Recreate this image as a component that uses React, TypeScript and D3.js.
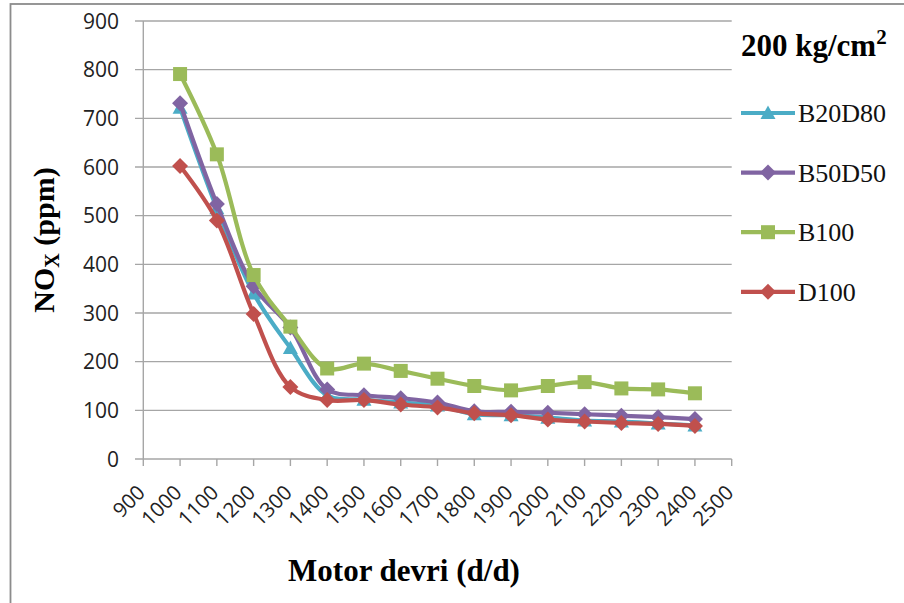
import React from "react";
import * as d3 from "d3";

const rpm = [1000, 1100, 1200, 1300, 1400, 1500, 1600, 1700, 1800, 1900, 2000, 2100, 2200, 2300, 2400];
const b20d80 = [722, 515, 340, 228, 131, 122, 116, 110, 92, 90, 85, 79, 77, 73, 69];
const b50d50 = [731, 524, 355, 270, 143, 131, 125, 116, 98, 97, 95, 92, 89, 86, 82];
const b100 = [791, 626, 378, 272, 186, 196, 181, 165, 150, 141, 150, 158, 145, 143, 135];
const d100 = [602, 490, 298, 148, 121, 121, 112, 106, 94, 90, 81, 77, 74, 72, 68];

const xTicks = [900, 1000, 1100, 1200, 1300, 1400, 1500, 1600, 1700, 1800, 1900, 2000, 2100, 2200, 2300, 2400, 2500];
const yTicks = [0, 100, 200, 300, 400, 500, 600, 700, 800, 900];

const seriesNames = ["B20D80", "B50D50", "B100", "D100"];
const seriesValues = [b20d80, b50d50, b100, d100];
const seriesColors = ["#4BACC6", "#8064A2", "#9BBB59", "#C0504D"];
const seriesMarkers = ["triangle", "diamond", "square", "diamond"];

const W = 904;
const H = 603;

function Marker({ type, x, y, color }: { type: string; x: number; y: number; color: string }) {
  if (type === "square") {
    return <rect x={x - 7} y={y - 7} width={14} height={14} fill={color} />;
  }
  if (type === "diamond") {
    const s = 8;
    return <path d={`M${x},${y - s}L${x + s},${y}L${x},${y + s}L${x - s},${y}Z`} fill={color} />;
  }
  const s = 7.5;
  return <path d={`M${x},${y - s}L${x + s},${y + s * 0.8}L${x - s},${y + s * 0.8}Z`} fill={color} />;
}

export default function App() {
  const x = d3.scaleLinear().domain([900, 2500]).range([143.3, 731.7]);
  const y = d3.scaleLinear().domain([0, 900]).range([459, 21]);
  const line = d3
    .line<number>()
    .x((_, i) => x(rpm[i]))
    .y((v) => y(v))
    .curve(d3.curveCatmullRom.alpha(0.5));
  const grid = "#a6a6a6";
  const serif = "'Liberation Serif', 'Times New Roman', serif";
  const sans = "'Open Sans', 'Noto Sans', sans-serif";

  return (
    <svg
      width={W}
      height={H}
      style={{ position: "absolute", left: 0, top: 0, background: "#fff" }}
      xmlns="http://www.w3.org/2000/svg"
    >
      <rect x={0} y={0} width={W} height={H} fill="#fff" />
      <rect x={10.5} y={4} width={W + 20} height={H + 20} fill="none" stroke="#8c8c8c" strokeWidth={1.8} />

      {yTicks.map((t) => (
        <g key={"y" + t}>
          <line x1={135} x2={x(2500)} y1={y(t)} y2={y(t)} stroke={grid} strokeWidth={1.4} />
          <text x={119} y={y(t)} dy="0.36em" textAnchor="end" fontFamily={sans} fontSize={21} fill="#222">
            {t}
          </text>
        </g>
      ))}
      <line x1={x(900)} x2={x(900)} y1={y(900)} y2={y(0)} stroke={grid} strokeWidth={1.4} />
      {xTicks.map((t) => (
        <g key={"x" + t}>
          <line x1={x(t)} x2={x(t)} y1={y(0)} y2={y(0) + 7} stroke={grid} strokeWidth={1.4} />
          <text
            transform={`translate(${x(t) + 3},${y(0) + 35}) rotate(-45)`}
            textAnchor="end"
            fontFamily={sans}
            fontSize={20.5}
            fill="#222"
          >
            {t}
          </text>
        </g>
      ))}

      {seriesValues.map((vals, si) => (
        <g key={seriesNames[si]}>
          <path d={line(vals) || ""} fill="none" stroke={seriesColors[si]} strokeWidth={4.2} strokeLinejoin="round" />
          {vals.map((v, i) => (
            <Marker key={i} type={seriesMarkers[si]} x={x(rpm[i])} y={y(v)} color={seriesColors[si]} />
          ))}
        </g>
      ))}

      <text x={404} y={581} textAnchor="middle" fontFamily={serif} fontWeight="bold" fontSize={31} fill="#000">
        Motor devri (d/d)
      </text>
      <text
        transform="translate(43,240) rotate(-90)"
        textAnchor="middle"
        dy="0.35em"
        fontFamily={serif}
        fontWeight="bold"
        fontSize={30}
        fill="#000"
      >
        NO<tspan fontSize={20} dy="5">X</tspan>
        <tspan dy="-5"> (ppm)</tspan>
      </text>

      <text x={741} y={56} fontFamily={serif} fontWeight="bold" fontSize={31} fill="#000">
        200 kg/cm<tspan fontSize={21} dy="-12">2</tspan>
      </text>
      {seriesNames.map((n, i) => {
        const cy = 113 + i * 59.6;
        return (
          <g key={"lg" + n}>
            <line x1={741} x2={795} y1={cy} y2={cy} stroke={seriesColors[i]} strokeWidth={4.2} />
            <Marker type={seriesMarkers[i]} x={768} y={cy} color={seriesColors[i]} />
            <text x={798} y={cy} dy="0.35em" fontFamily={serif} fontSize={26} fill="#111">
              {n}
            </text>
          </g>
        );
      })}
    </svg>
  );
}
